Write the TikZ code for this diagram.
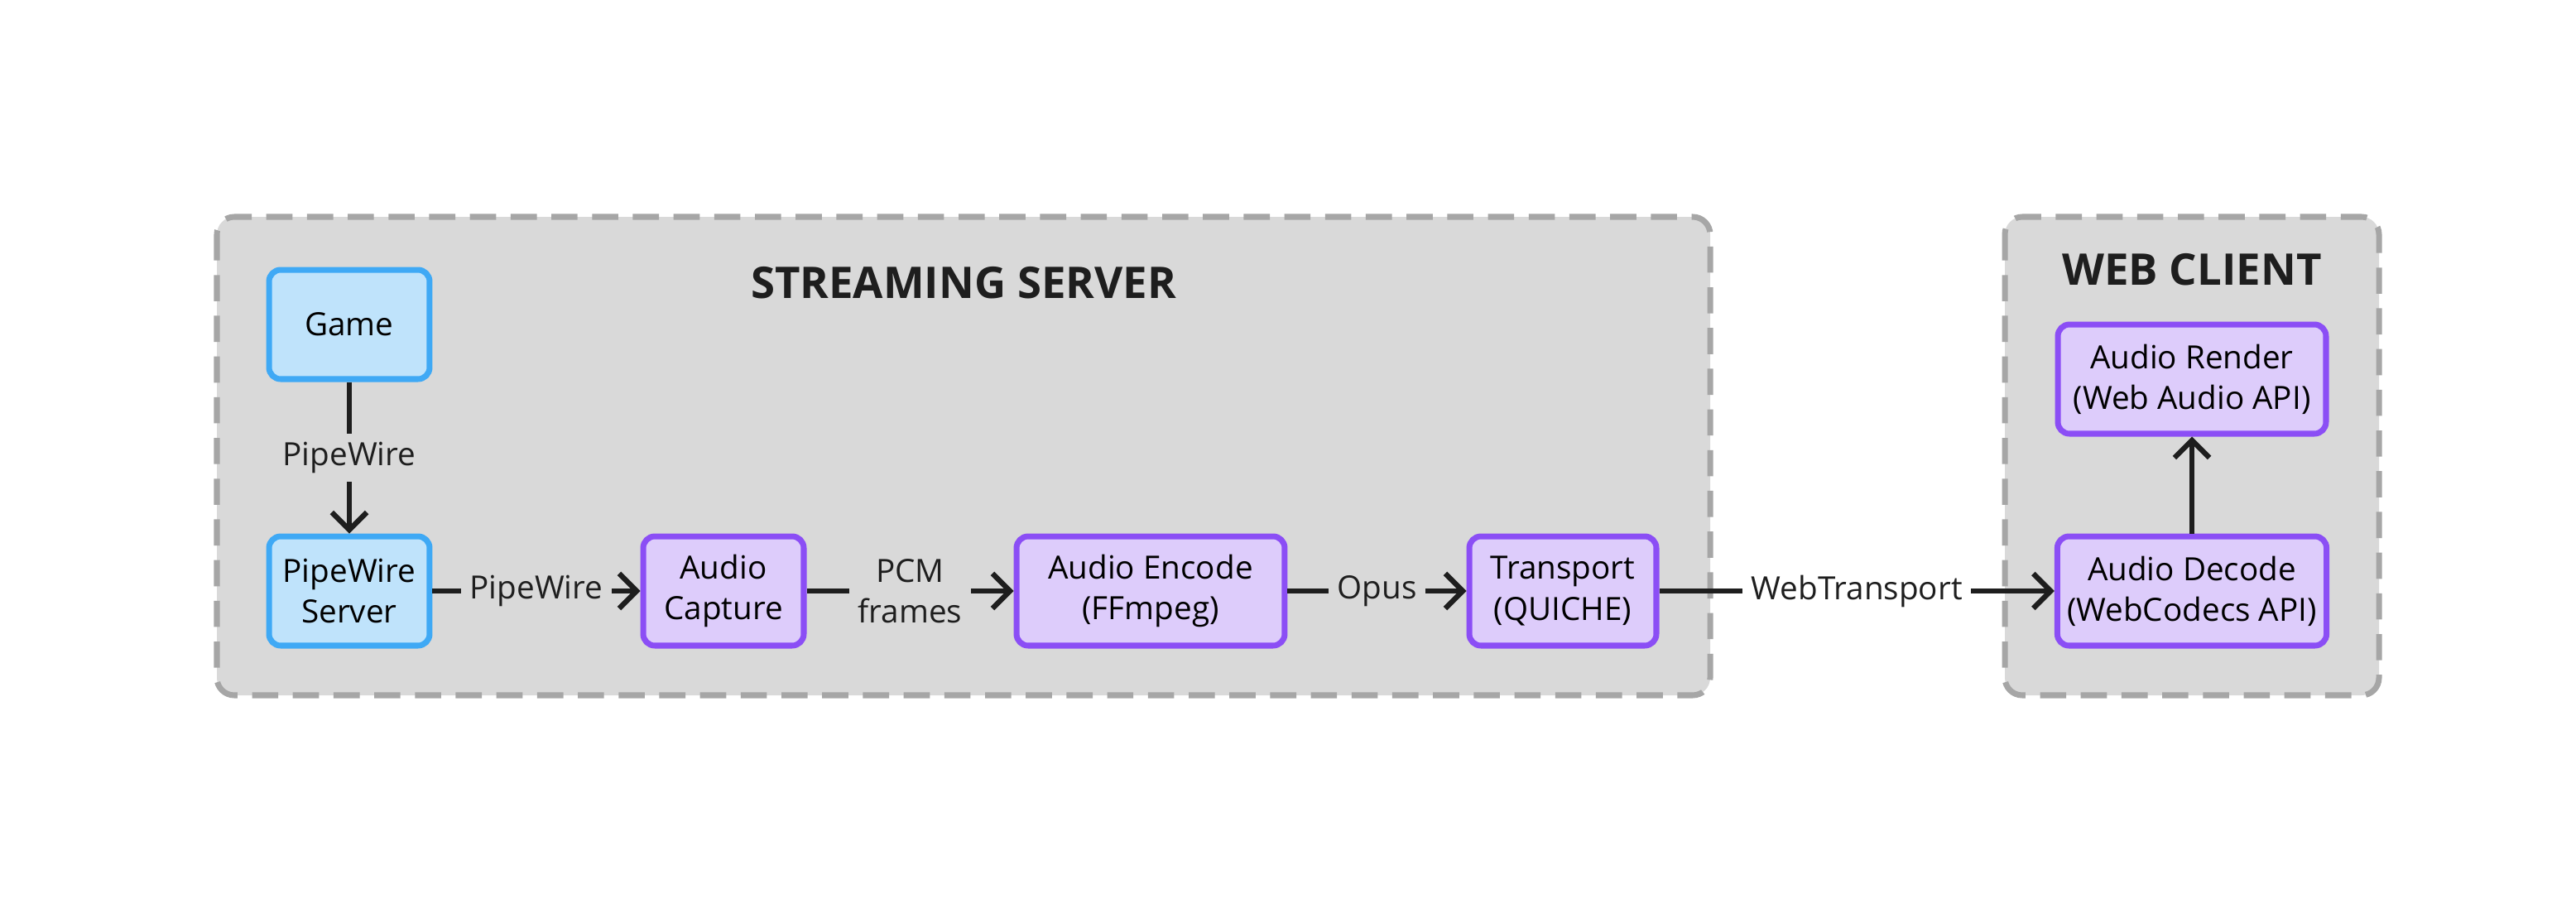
\documentclass[tikz,border=0pt]{standalone}
\usepackage{fontspec}
\setmainfont{Open Sans}
\usetikzlibrary{arrows.meta}

\definecolor{zonegray}{HTML}{D9D9D9}
\definecolor{zoneline}{HTML}{A6A6A6}
\definecolor{hostfill}{HTML}{BFE3FB}
\definecolor{hostline}{HTML}{3FA9F5}
\definecolor{stagefill}{HTML}{DDCCFB}
\definecolor{stageline}{HTML}{8B4EF5}
\definecolor{ink}{HTML}{1E1E1E}

\tikzset{
    zone/.style={draw=zoneline, fill=zonegray, dashed, dash pattern=on 9pt off 5pt,
        line width=2pt, rounded corners=6pt},
    host/.style={draw=hostline, fill=hostfill, line width=2pt, rounded corners=4pt,
        minimum width=1.94cm, minimum height=1.32cm, align=center, font=\fontsize{11}{14}\selectfont},
    stage/.style={host, draw=stageline, fill=stagefill},
    flow/.style={draw=ink, line width=1.8pt, -{Straight Barb[length=6pt,width=12pt,line width=1.8pt]}},
    tag/.style={fill=zonegray, text=ink, align=center, inner sep=3pt, font=\fontsize{11}{14}\selectfont},
    heading/.style={font=\fontsize{15}{18}\selectfont\bfseries, text=ink}
}

\begin{document}
\begin{tikzpicture}[x=0.02cm, y=-0.02cm]

    \useasboundingbox[fill=white] (0,0) rectangle (1556,548);

    % zones
    \draw[zone] (131,131) rectangle (1033,420);
    \draw[zone] (1211,131) rectangle (1437,420);
    \node[heading] (serverTitle) at (582,171) {STREAMING SERVER};
    \node[heading] (clientTitle) at (1324,163) {WEB CLIENT};

    % boxes
    \node[host] (game) at (211,196) {Game};
    \node[host] (pwServer) at (211,357) {PipeWire\\Server};
    \node[stage, minimum width=1.94cm] (capture) at (437,357) {Audio\\Capture};
    \node[stage, minimum width=3.24cm] (encode) at (695,357) {Audio Encode\\(FFmpeg)};
    \node[stage, minimum width=2.26cm] (transport) at (944,357) {Transport\\(QUICHE)};
    \node[stage, minimum width=3.24cm] (decode) at (1324,357) {Audio Decode\\(WebCodecs API)};
    \node[stage, minimum width=3.24cm] (render) at (1324,229) {Audio Render\\(Web Audio API)};

    % connectors
    \draw[flow] (game) -- node[tag] {PipeWire} (pwServer);
    \draw[flow] (pwServer) -- node[tag] {PipeWire} (capture);
    \draw[flow] (capture) -- node[tag] {PCM\\frames} (encode);
    \draw[flow] (encode) -- node[tag] {Opus} (transport);
    \draw[flow] (transport) -- node[tag, fill=white] {WebTransport} (decode);
    \draw[flow] (decode) -- (render);

\end{tikzpicture}
\end{document}
